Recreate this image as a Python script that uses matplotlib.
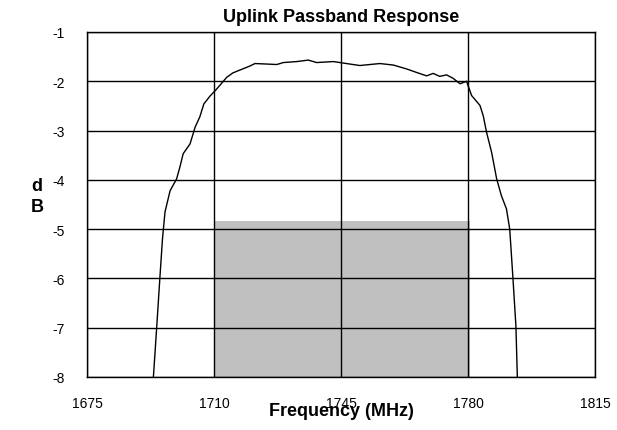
import matplotlib
matplotlib.use("Agg")
import matplotlib.pyplot as plt
from matplotlib.patches import Rectangle

plt.rcParams['font.family'] = ['Liberation Sans', 'DejaVu Sans']

freq = [1693.3, 1694.2, 1695.1, 1695.8, 1696.5, 1697.9, 1699.7, 1700.6, 1701.5, 1703.4,
        1704.8, 1706.1, 1707.2, 1708.9, 1710.7, 1713.5, 1715.2, 1716.2, 1719.9, 1721.3,
        1724.5, 1727.3, 1729.1, 1732.8, 1736.0, 1738.3, 1742.9, 1746.5, 1750.2, 1755.7,
        1759.4, 1763.1, 1765.8, 1768.6, 1770.4, 1772.2, 1774.1, 1775.9, 1777.8, 1779.6,
        1781.0, 1783.3, 1784.2, 1785.1, 1786.5, 1787.9, 1789.2, 1790.6, 1791.5, 1792.4,
        1793.2, 1793.6]
gain_db = [-8.0, -7.0, -5.97, -5.2, -4.65, -4.22, -3.98, -3.74, -3.47, -3.27,
           -2.93, -2.72, -2.46, -2.30, -2.16, -1.92, -1.83, -1.80, -1.69, -1.64,
           -1.65, -1.66, -1.62, -1.60, -1.57, -1.62, -1.60, -1.64, -1.68, -1.64,
           -1.67, -1.75, -1.82, -1.89, -1.84, -1.90, -1.87, -1.94, -2.05, -2.00,
           -2.29, -2.49, -2.70, -3.03, -3.44, -3.98, -4.32, -4.59, -5.0, -6.01,
           -6.96, -8.0]

mask_f0, mask_f1, mask_top = 1710, 1780.5, -4.83
x_ticks = [1675, 1710, 1745, 1780, 1815]
y_ticks = [-1, -2, -3, -4, -5, -6, -7, -8]

fig = plt.figure(figsize=(6.17, 4.31), dpi=100)
ax = fig.add_axes([87/617, 1-378/431, (595-87)/617, (378-33)/431])

ax.add_patch(Rectangle((mask_f0, -8), mask_f1 - mask_f0, mask_top + 8,
                       facecolor='#c0c0c0', edgecolor='none', zorder=1))
ax.plot(freq, gain_db, color='black', lw=1.0, zorder=3)

ax.set_xlim(1675, 1815)
ax.set_ylim(-8, -1)
ax.set_xticks(x_ticks)
ax.set_yticks(y_ticks)
ax.set_xticklabels([str(v) for v in x_ticks])
ax.set_yticklabels([str(v) for v in y_ticks])
ax.tick_params(length=0, labelsize=10)
ax.tick_params(axis='y', pad=16)
ax.tick_params(axis='x', pad=14)
ax.grid(True, color='black', lw=1.0, zorder=2)
ax.set_axisbelow(False)
for s in ax.spines.values():
    s.set_linewidth(1.0)
    s.set_color('black')

ax.set_title('Uplink Passband Response', fontsize=13, fontweight='bold', pad=8)
ax.set_xlabel('Frequency (MHz)', fontsize=13, fontweight='bold', labelpad=-6)
fig.text(37/617, 1-197/431, 'd\nB', fontsize=13, fontweight='bold',
         ha='center', va='center', linespacing=1.25)

fig.savefig('out.png', dpi=100)
